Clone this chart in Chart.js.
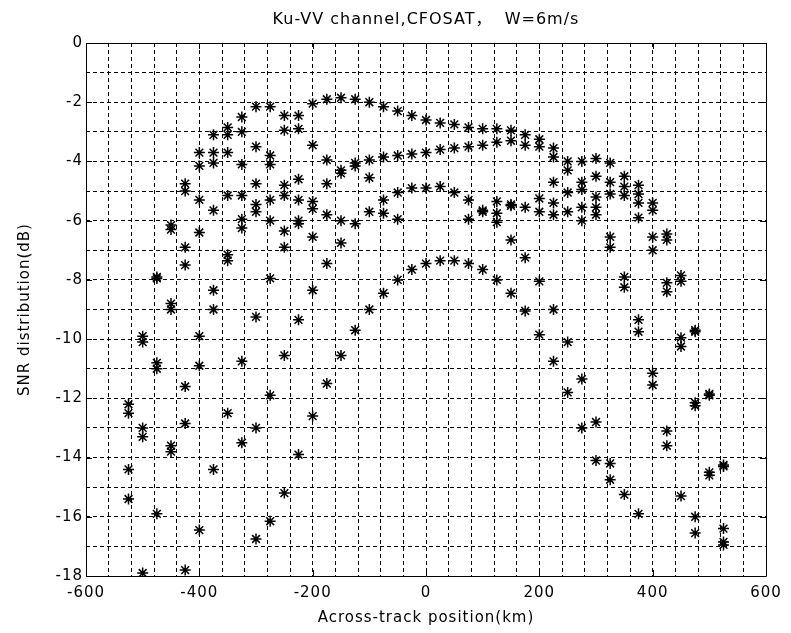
<!DOCTYPE html>
<html><head><meta charset="utf-8">
<script src="https://cdn.jsdelivr.net/npm/chart.js@4"></script>
<style>html,body{margin:0;padding:0;background:#fff;}</style>
</head><body>
<canvas id="c" width="791" height="633" style="display:block;width:791px;height:633px"></canvas>
<script>
const chartTitle = 'Ku-VV channel,CFOSAT\uFF0C  W=6m/s';
const xAxisTitle = 'Across-track position(km)';
const yAxisTitle = 'SNR distribution(dB)';
const xMajorTicks = [-600, -400, -200, 0, 200, 400, 600];
const yMajorTicks = [0, -2, -4, -6, -8, -10, -12, -14, -16, -18];

// across-track cell positions (km)
const acrossTrackKm = [-525, -500, -475, -450, -425, -400, -375, -350, -325, -300, -275, -250, -225, -200,
  -175, -150, -125, -100, -75, -50, -25, 0, 25, 50, 75, 100, 125, 150, 175, 200,
  225, 250, 275, 300, 325, 350, 375, 400, 425, 450, 475, 500, 525];

// SNR values (dB) read at each across-track position
const snrDb = [
  [-12.2, -12.5, -14.4, -15.4],
  [-9.9, -10.1, -13.0, -13.3, -17.9],
  [-7.9, -7.95, -10.8, -11.0, -15.9],
  [-6.15, -6.3, -8.8, -9.0, -13.6, -13.8],
  [-4.75, -5.0, -6.9, -7.5, -11.6, -12.85, -17.8],
  [-3.7, -4.15, -5.3, -6.4, -9.9, -10.9, -16.45],
  [-3.1, -3.7, -4.05, -5.65, -8.35, -9.0, -14.4],
  [-2.85, -3.1, -3.7, -5.15, -7.15, -7.35, -12.5],
  [-2.5, -3.0, -4.1, -5.15, -5.95, -6.25, -10.75, -13.5],
  [-2.15, -3.5, -4.75, -5.45, -5.7, -9.25, -13.0, -16.75],
  [-2.15, -3.8, -4.1, -5.3, -6.0, -7.95, -11.9, -16.15],
  [-2.45, -2.95, -4.8, -5.15, -6.35, -6.9, -10.55, -15.2],
  [-2.45, -2.9, -4.6, -5.3, -6.0, -6.1, -9.35, -13.9],
  [-2.05, -3.45, -5.35, -5.6, -6.55, -8.35, -12.6],
  [-1.9, -3.95, -4.75, -5.8, -7.45, -11.5],
  [-1.85, -4.3, -4.4, -6.0, -6.75, -10.55],
  [-1.9, -4.05, -4.15, -6.1, -9.7],
  [-2.0, -3.95, -4.55, -5.7, -9.0],
  [-2.15, -3.85, -5.3, -5.75, -8.45],
  [-2.3, -3.8, -5.05, -5.95, -8.0],
  [-2.45, -3.75, -4.9, -7.65],
  [-2.6, -3.7, -4.9, -7.45],
  [-2.7, -3.6, -4.85, -7.35],
  [-2.75, -3.55, -5.05, -7.35],
  [-2.85, -3.5, -5.3, -5.95, -7.45],
  [-2.9, -3.45, -5.65, -5.7, -7.65],
  [-2.9, -3.35, -5.35, -5.75, -6.05, -8.0],
  [-2.95, -3.3, -5.45, -5.5, -6.65, -8.45],
  [-3.1, -3.45, -5.55, -7.25, -9.05],
  [-3.25, -3.5, -5.25, -5.7, -8.05, -9.85],
  [-3.55, -3.85, -4.7, -5.4, -5.8, -9.0, -10.75],
  [-4.0, -4.3, -5.05, -5.7, -10.1, -11.8],
  [-4.0, -4.7, -4.95, -5.55, -6.0, -11.35, -13.0],
  [-3.9, -4.5, -5.2, -5.55, -5.8, -12.8, -14.1],
  [-4.05, -4.7, -5.1, -6.55, -6.9, -14.2, -14.75],
  [-4.5, -4.85, -5.15, -7.9, -8.25, -15.25],
  [-4.8, -5.1, -5.4, -5.9, -9.35, -9.75, -15.9],
  [-5.4, -5.65, -6.55, -7.0, -11.15, -11.55],
  [-6.45, -6.65, -8.1, -8.4, -13.1, -13.6],
  [-7.85, -8.05, -9.95, -10.25, -15.3],
  [-9.7, -9.75, -12.15, -12.25, -16.0, -16.55],
  [-11.85, -11.9, -14.5, -14.6],
  [-14.25, -14.3, -16.4, -16.85, -16.95]
];

const points = [];
acrossTrackKm.forEach((x, i) => snrDb[i].forEach(y => points.push({x: x, y: y})));

const FONT = "'DejaVu Sans', 'Noto Sans CJK SC', sans-serif";
const SPACING = '1px';

const matlabAxes = {
  id: 'matlabAxes',
  beforeLayout(chart) { chart.ctx.letterSpacing = SPACING; },
  beforeDraw(chart) { chart.ctx.letterSpacing = SPACING; },
  beforeDatasetsDraw(chart) {
    const {ctx, chartArea: a, scales: {x, y}} = chart;
    ctx.save();
    ctx.strokeStyle = '#000';
    ctx.lineWidth = 1;
    ctx.setLineDash([]);
    ctx.beginPath();
    ctx.rect(Math.round(a.left) + 0.5, Math.round(a.top) + 0.5,
             Math.round(a.right - a.left), Math.round(a.bottom - a.top));
    const tl = 6;
    xMajorTicks.forEach(v => {
      const px = Math.round(x.getPixelForValue(v)) + 0.5;
      ctx.moveTo(px, a.bottom); ctx.lineTo(px, a.bottom - tl);
      ctx.moveTo(px, a.top); ctx.lineTo(px, a.top + tl);
    });
    yMajorTicks.forEach(v => {
      const py = Math.round(y.getPixelForValue(v)) + 0.5;
      ctx.moveTo(a.left, py); ctx.lineTo(a.left + tl, py);
      ctx.moveTo(a.right, py); ctx.lineTo(a.right - tl, py);
    });
    ctx.stroke();
    ctx.restore();
  },
  afterDraw(chart) {
    const {ctx, chartArea: a} = chart;
    ctx.save();
    ctx.letterSpacing = SPACING;
    ctx.fillStyle = '#000';
    ctx.font = '16px ' + FONT;
    ctx.textAlign = 'center';
    ctx.textBaseline = 'middle';
    ctx.fillText(chartTitle, (a.left + a.right) / 2, 20);
    ctx.restore();
  }
};

new Chart(document.getElementById('c'), {
  type: 'scatter',
  data: {
    datasets: [{
      data: points,
      pointStyle: 'star',
      radius: 5.5,
      hoverRadius: 5.5,
      borderColor: '#000',
      backgroundColor: '#000',
      borderWidth: 1.5
    }]
  },
  options: {
    responsive: false,
    animation: false,
    devicePixelRatio: 1,
    layout: {padding: {left: 0, right: 25, top: 43, bottom: 0}},
    plugins: {legend: {display: false}, tooltip: {enabled: false}, title: {display: false}},
    scales: {
      x: {
        type: 'linear', position: 'bottom', min: -600, max: 600,
        afterFit(s) { s.height = 57; },
        grid: {color: '#000', lineWidth: 1, drawTicks: false},
        border: {display: false, dash: [4, 3]},
        ticks: {
          stepSize: 40, autoSkip: false, maxRotation: 0, padding: 8, color: '#000',
          font: {family: FONT, size: 15},
          callback: v => xMajorTicks.includes(v) ? String(v) : ''
        },
        title: {display: true, text: xAxisTitle, color: '#000', font: {family: FONT, size: 15}, padding: {top: 0, bottom: 6}}
      },
      y: {
        type: 'linear', position: 'left', min: -18, max: 0,
        afterFit(s) { s.width = 86; },
        grid: {color: '#000', lineWidth: 1, drawTicks: false},
        border: {display: false, dash: [4, 3]},
        ticks: {
          stepSize: 1, autoSkip: false, padding: 3, color: '#000',
          font: {family: FONT, size: 15},
          callback: v => yMajorTicks.includes(v) ? String(v) : ''
        },
        title: {display: true, text: yAxisTitle, color: '#000', font: {family: FONT, size: 15}, padding: {top: 16, bottom: 0}}
      }
    }
  },
  plugins: [matlabAxes]
});
</script>
</body></html>
